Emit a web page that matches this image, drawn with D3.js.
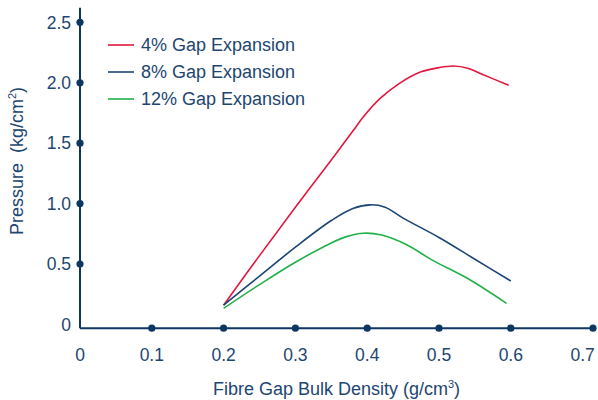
<!DOCTYPE html>
<html>
<head>
<meta charset="utf-8">
<script src="https://cdn.jsdelivr.net/npm/d3@7"></script>
<style>
  html, body { margin: 0; padding: 0; background: #ffffff; }
  svg { display: block; font-family: "Liberation Sans", Arial, sans-serif; }
</style>
</head>
<body>
<svg id="chart" width="598" height="400"></svg>
<script>
// ---- Data ----
const seriesNames = ["4% Gap Expansion", "8% Gap Expansion", "12% Gap Expansion"];
const seriesColors = ["#e3173e", "#1b4674", "#22b04b"];

const density4 = [0.2, 0.25, 0.3, 0.35, 0.38, 0.395, 0.418, 0.445, 0.475, 0.5, 0.52, 0.54, 0.56, 0.597];
const pressure4 = [0.16, 0.57, 0.97, 1.36, 1.60, 1.72, 1.87, 1.995, 2.09, 2.125, 2.138, 2.12, 2.07, 1.98];

const density8 = [0.2, 0.25, 0.3, 0.35, 0.38, 0.405, 0.425, 0.45, 0.5, 0.55, 0.6];
const pressure8 = [0.16, 0.40, 0.64, 0.86, 0.96, 0.99, 0.97, 0.88, 0.72, 0.54, 0.36];

const density12 = [0.2, 0.25, 0.3, 0.35, 0.37, 0.395, 0.42, 0.455, 0.49, 0.54, 0.594];
const pressure12 = [0.134, 0.33, 0.515, 0.675, 0.725, 0.755, 0.74, 0.66, 0.535, 0.38, 0.175];

const xTicks = [0, 0.1, 0.2, 0.3, 0.4, 0.5, 0.6, 0.7];
const xTickLabels = ["0", "0.1", "0.2", "0.3", "0.4", "0.5", "0.6", "0.7"];
const yTicks = [0, 0.5, 1.0, 1.5, 2.0, 2.5];
const yTickLabels = ["0", "0.5", "1.0", "1.5", "2.0", "2.5"];

// ---- Layout ----
const svg = d3.select("#chart");
const textColor = "#1d4670";
const axisColor = "#0d3763";
const fontSize = 18;

const x = d3.scaleLinear().domain([0, 0.7]).range([80, 582.6]);
const y = d3.scaleLinear().domain([0, 2.5]).range([324.5, 22.3]);
const xAxisEnd = 0.7145;   // axis line extends a little past 0.7
const yAxisBottom = -0.03; // x axis sits slightly below zero
const yAxisTop = 2.62;

// Axes lines
svg.append("line")
  .attr("x1", x(0)).attr("x2", x(0))
  .attr("y1", y(yAxisBottom)).attr("y2", y(yAxisTop))
  .attr("stroke", axisColor).attr("stroke-width", 2);
svg.append("line")
  .attr("x1", x(0)).attr("x2", x(xAxisEnd))
  .attr("y1", y(yAxisBottom)).attr("y2", y(yAxisBottom))
  .attr("stroke", axisColor).attr("stroke-width", 2);

// Tick dots
svg.selectAll("circle.ydot").data(yTicks.filter(d => d > 0)).enter()
  .append("circle").attr("class", "ydot")
  .attr("cx", x(0)).attr("cy", d => y(d)).attr("r", 3.6)
  .attr("fill", axisColor);
const xDots = xTicks.filter(d => d > 0 && d < 0.7).concat([xAxisEnd]);
svg.selectAll("circle.xdot").data(xDots).enter()
  .append("circle").attr("class", "xdot")
  .attr("cx", d => x(d)).attr("cy", y(yAxisBottom)).attr("r", 3.6)
  .attr("fill", axisColor);

// Tick labels
svg.selectAll("text.ylab").data(yTicks).enter()
  .append("text").attr("class", "ylab")
  .attr("x", x(0) - 9).attr("y", d => y(d)).attr("dy", "0.36em")
  .attr("text-anchor", "end")
  .attr("font-size", 17.5).attr("fill", textColor)
  .text((d, i) => yTickLabels[i]);

svg.selectAll("text.xlab").data(xTicks).enter()
  .append("text").attr("class", "xlab")
  .attr("x", d => x(d)).attr("y", 361)
  .attr("text-anchor", "middle")
  .attr("font-size", 17.5).attr("fill", textColor)
  .text((d, i) => xTickLabels[i]);

// Axis titles
const xt = svg.append("text")
  .attr("x", 336.5).attr("y", 395)
  .attr("text-anchor", "middle")
  .attr("font-size", fontSize).attr("fill", textColor);
xt.append("tspan").text("Fibre Gap Bulk Density (g/cm");
xt.append("tspan").attr("font-size", 11).attr("dy", -7).text("3");
xt.append("tspan").attr("dy", 7).text(")");

const yt = svg.append("text")
  .attr("transform", "translate(23,161) rotate(-90)")
  .attr("text-anchor", "middle")
  .attr("font-size", fontSize).attr("fill", textColor)
  .attr("xml:space", "preserve")
  .style("white-space", "pre");
yt.append("tspan").text("Pressure  (kg/cm");
yt.append("tspan").attr("font-size", 11).attr("dy", -7).text("2");
yt.append("tspan").attr("dy", 7).text(")");

// Series lines
const allDensity = [density4, density8, density12];
const allPressure = [pressure4, pressure8, pressure12];
const line = d3.line()
  .x(d => x(d[0])).y(d => y(d[1]))
  .curve(d3.curveCatmullRom.alpha(0.5));

allDensity.forEach((dens, i) => {
  const pts = dens.map((d, j) => [d, allPressure[i][j]]);
  svg.append("path")
    .datum(pts)
    .attr("d", line)
    .attr("fill", "none")
    .attr("stroke", seriesColors[i])
    .attr("stroke-width", 1.6);
});

// Legend
const legendY = [45, 72, 99];
seriesNames.forEach((name, i) => {
  svg.append("line")
    .attr("x1", 108).attr("x2", 134)
    .attr("y1", legendY[i]).attr("y2", legendY[i])
    .attr("stroke", seriesColors[i]).attr("stroke-width", 1.6);
  svg.append("text")
    .attr("x", 141).attr("y", legendY[i]).attr("dy", "0.36em")
    .attr("font-size", fontSize).attr("fill", textColor)
    .text(name);
});
</script>
</body>
</html>
